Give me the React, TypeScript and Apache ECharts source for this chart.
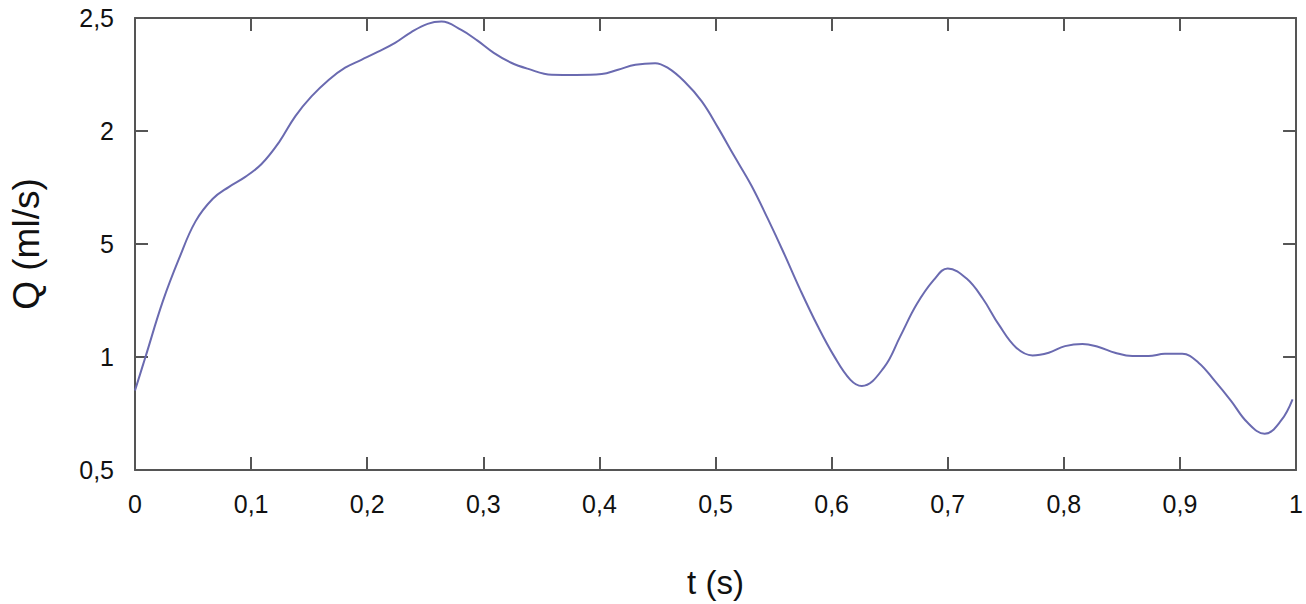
import React, { useEffect, useRef } from "react";
import * as echarts from "echarts";

const tValues = [
  0, 0.009, 0.024, 0.038, 0.052, 0.067, 0.081, 0.095, 0.109, 0.124, 0.138, 0.152,
  0.167, 0.181, 0.195, 0.209, 0.224, 0.238, 0.252, 0.264, 0.281, 0.295, 0.309,
  0.324, 0.338, 0.359, 0.38, 0.402, 0.416, 0.431, 0.448, 0.459, 0.473, 0.488,
  0.502, 0.516, 0.531, 0.545, 0.559, 0.573, 0.588, 0.602, 0.616, 0.626, 0.645,
  0.659, 0.673, 0.688, 0.7, 0.716, 0.73, 0.744, 0.759, 0.773, 0.787, 0.801,
  0.816, 0.83, 0.844, 0.859, 0.873, 0.887, 0.902, 0.916, 0.93, 0.944, 0.958,
  0.973, 0.987, 0.997,
];
const qValues = [
  0.852, 1.0, 1.247, 1.436, 1.599, 1.7, 1.753, 1.797, 1.854, 1.95, 2.065, 2.153,
  2.227, 2.28, 2.315, 2.35, 2.39, 2.438, 2.474, 2.484, 2.447, 2.4, 2.346,
  2.302, 2.276, 2.249, 2.248, 2.252, 2.271, 2.293, 2.3, 2.279, 2.22, 2.132,
  2.016, 1.89, 1.758, 1.612, 1.458, 1.297, 1.137, 1.005, 0.9, 0.872, 0.953,
  1.09, 1.231, 1.341, 1.392, 1.348, 1.26, 1.143, 1.041, 1.007, 1.019, 1.048,
  1.058, 1.044, 1.019, 1.004, 1.004, 1.014, 1.014, 0.975, 0.894, 0.806, 0.711,
  0.66, 0.718, 0.813,
];
const xTickValues = [0, 0.1, 0.2, 0.3, 0.4, 0.5, 0.6, 0.7, 0.8, 0.9, 1];
const xTickLabels = ["0", "0,1", "0,2", "0,3", "0,4", "0,5", "0,6", "0,7", "0,8", "0,9", "1"];
const yTickValues = [0.5, 1, 1.5, 2, 2.5];
const yTickLabels = ["0,5", "1", "5", "2", "2,5"];

const axisColor = "#555555";
const font = "'Liberation Sans', Arial, sans-serif";

function labelFor(values: number[], labels: string[], v: number): string {
  for (let i = 0; i < values.length; i++) {
    if (Math.abs(values[i] - v) < 1e-6) return labels[i];
  }
  return "";
}

export default function App() {
  const ref = useRef<HTMLDivElement>(null);
  useEffect(() => {
    if (!ref.current) return;
    const chart = echarts.init(ref.current, undefined, { renderer: "svg" });
    const axisCommon = {
      axisLine: { show: true, onZero: false, lineStyle: { color: axisColor, width: 2 } },
      axisTick: { show: true, inside: true, length: 13, lineStyle: { color: axisColor, width: 2 } },
      splitLine: { show: false },
    };
    chart.setOption({
      animation: false,
      backgroundColor: "#ffffff",
      grid: { left: 130, right: 7, top: 18, bottom: 131, containLabel: false },
      xAxis: [
        {
          type: "value",
          min: 0,
          max: 1,
          interval: 0.1,
          position: "bottom",
          ...axisCommon,
          axisLabel: {
            color: "#111",
            fontSize: 25,
            fontFamily: font,
            margin: 21,
            formatter: (v: number) => labelFor(xTickValues, xTickLabels, v),
          },
          name: "t (s)",
          nameLocation: "middle",
          nameGap: 96,
          nameTextStyle: { color: "#111", fontSize: 33, fontFamily: font },
        },
        {
          type: "value",
          min: 0,
          max: 1,
          interval: 0.1,
          position: "top",
          ...axisCommon,
          axisLabel: { show: false },
        },
      ],
      yAxis: [
        {
          type: "value",
          min: 0.5,
          max: 2.5,
          interval: 0.5,
          position: "left",
          ...axisCommon,
          axisLabel: {
            color: "#111",
            fontSize: 25,
            fontFamily: font,
            margin: 21,
            formatter: (v: number) => labelFor(yTickValues, yTickLabels, v),
          },
          name: "Q (ml/s)",
          nameLocation: "middle",
          nameGap: 90,
          nameTextStyle: { color: "#111", fontSize: 37, fontFamily: font },
        },
        {
          type: "value",
          min: 0.5,
          max: 2.5,
          interval: 0.5,
          position: "right",
          ...axisCommon,
          axisLabel: { show: false },
        },
      ],
      series: [
        {
          type: "line",
          xAxisIndex: 0,
          yAxisIndex: 0,
          data: tValues.map((t, i) => [t, qValues[i]]),
          smooth: 0.4,
          showSymbol: false,
          lineStyle: { color: "#6a6ab0", width: 2 },
        },
      ],
    });
    return () => chart.dispose();
  }, []);
  return (
    <div
      ref={ref}
      style={{ position: "absolute", left: 0, top: 0, width: 1306, height: 604 }}
    />
  );
}
